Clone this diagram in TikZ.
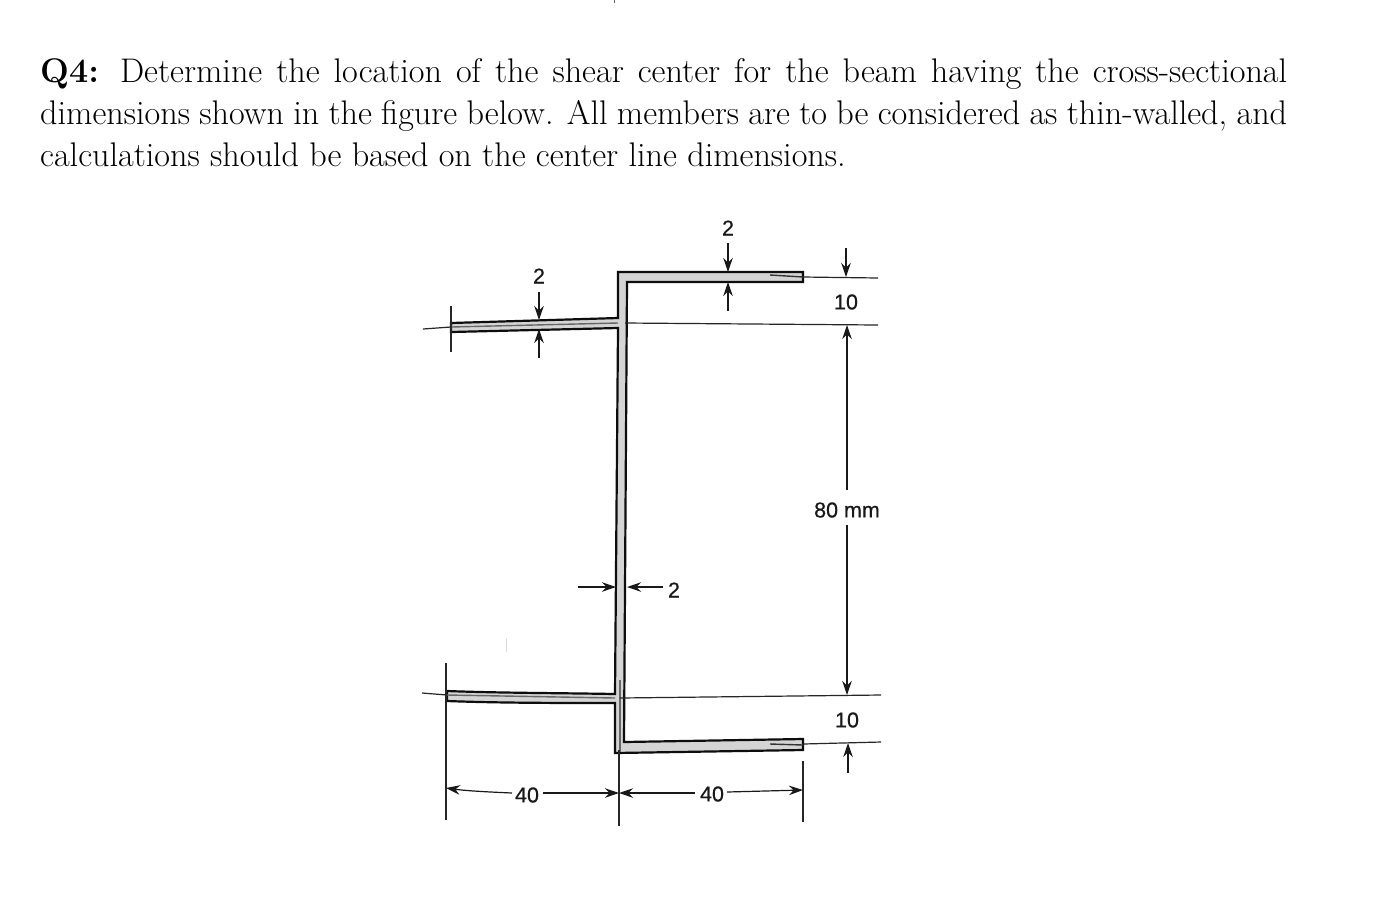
\documentclass[tikz,border=0pt]{standalone}
\usepackage{fontspec}
\usetikzlibrary{arrows.meta}
\newfontfamily\labfont[FakeBold=0.6]{Liberation Sans}
\tikzset{
  x=1pt,y=-1pt,
  body/.style={font=\fontsize{34.15}{40}\selectfont,anchor=base west,inner sep=0pt},
  dimlabel/.style={font=\labfont\fontsize{21.5}{24}\selectfont,inner sep=1pt,text=black!90},
  section/.style={draw=black!95,line width=2.2pt,fill=black!17,line join=miter},
  thinline/.style={draw=black!85,line width=1.2pt},
  centre/.style={draw=black!60,line width=1.4pt},
  dimarrow/.style={draw=black!90,line width=1.2pt,-{Stealth[length=14pt,width=9.5pt]}},
}
\begin{document}
\begin{tikzpicture}
\useasboundingbox (0,0) rectangle (1396,906);
\fill[white] (0,0) rectangle (1396,906);
\draw[black!60,line width=0.8pt] (614,0) -- (614,3);
\draw[black!15,line width=0.8pt] (506,638) -- (506,652);
% text
\node[body] (l1) at (40,82) {\makebox[1247pt][s]{\textbf{Q4:} Determine the location of the shear center for the beam having the cross-sectional}};
\node[body] (l2) at (40,124.5) {\makebox[1247pt][s]{dimensions shown in the figure below. All members are to be considered as thin-walled, and}};
\node[body] (l3) at (40,166.5) {calculations should be based on the center line dimensions.};
% section
\draw[section] (803,272) -- (618,272) -- (618,318) -- (451,323) -- (451,332) -- (618,328)
  -- (615,694) .. controls (560,693) and (500,693) .. (447,691) -- (447,701)
  .. controls (500,703) and (560,703) .. (615,703) -- (615,753) -- (803,750) -- (803,739)
  -- (624,742) -- (627,282) -- (803,282) -- cycle;
% centre lines within the section
\draw[centre] (451,327) -- (618,323);
\draw[centre] (447,695) -- (615,698);
\draw[centre] (620,680) -- (620,752);
\draw[black!80,line width=1.4pt] (770,275) -- (803,277);
\draw[black!80,line width=1.4pt] (770,744) -- (803,745);
% extension lines
\coordinate (ul1) at (451,306); \coordinate (ul2) at (451,352);
\coordinate (ll1) at (446,663); \coordinate (ll2) at (446,820);
\coordinate (wb1) at (619,750); \coordinate (wb2) at (619,826);
\coordinate (rr1) at (803,761); \coordinate (rr2) at (803,822);
\draw[thinline] (ul1) -- (ul2);
\draw[thinline] (ll1) -- (ll2);
\draw[thinline] (wb1) -- (wb2);
\draw[thinline] (rr1) -- (rr2);
\draw[thinline] (423,329) -- (451,327);
\draw[thinline] (422,693) -- (447,695);
\draw[thinline] (803,277) -- (878,278);
\draw[thinline] (625,323) -- (878,325);
\draw[thinline] (620,698) -- (881,695);
\draw[thinline] (803,744) -- (881,742);
% labels
\node[dimlabel] (a) at (539,276) {2};
\node[dimlabel] (b) at (728,228) {2};
\node[dimlabel] (c) at (674,590) {2};
\node[dimlabel] (d) at (846,302) {10};
\node[dimlabel] (e) at (847,510) {80 mm};
\node[dimlabel] (f) at (847,720) {10};
\node[dimlabel] (g) at (527,795) {40};
\node[dimlabel] (h) at (712,794) {40};
% dimension arrows
\draw[dimarrow] (539,292) -- (539,320);
\draw[dimarrow] (539,358) -- (539,329);
\draw[dimarrow] (728,243) -- (728,272);
\draw[dimarrow] (728,311) -- (728,282);
\draw[dimarrow] (846,248) -- (846,277);
\draw[dimarrow] (847,490) -- (847,325);
\draw[dimarrow] (847,525) -- (847,695);
\draw[dimarrow] (848,773) -- (848,743);
\draw[dimarrow] (578,587) -- (616,587);
\draw[dimarrow] (663,587) -- (627,587);
\draw[dimarrow] (512,793) .. controls (490,792) and (468,791) .. (446,788);
\draw[dimarrow] (543,793) -- (619,793);
\draw[dimarrow] (695,793) -- (619,793);
\draw[dimarrow] (727,792) -- (803,790);
\end{tikzpicture}
\end{document}
